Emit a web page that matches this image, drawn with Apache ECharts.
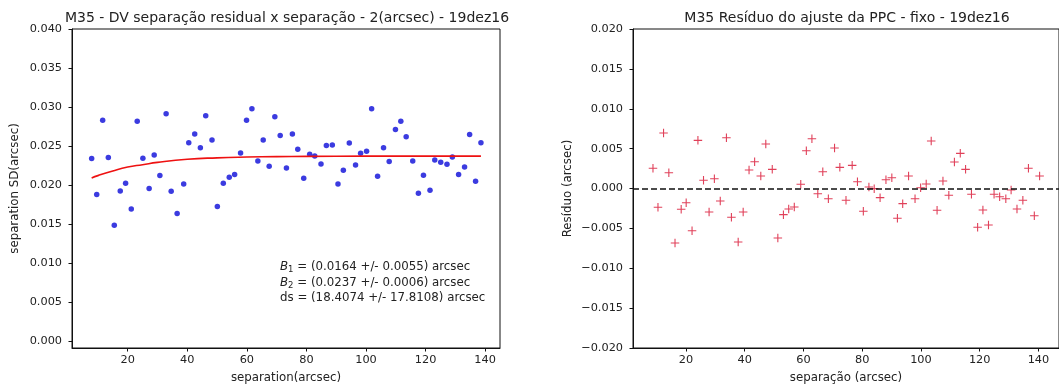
<!DOCTYPE html>
<html>
<head>
<meta charset="utf-8">
<script src="https://cdn.jsdelivr.net/npm/echarts@6/dist/echarts.min.js"></script>
<style>
html,body{margin:0;padding:0;background:#fff;}
#c{width:1059px;height:391px;}
</style>
</head>
<body>
<div id="c"></div>
<script>
// ---- data ----
const sepLeft = [7.9,9.6,11.6,13.5,15.5,17.5,19.3,21.2,23.2,25.1,27.2,28.9,30.8,32.9,34.6,36.6,38.8,40.5,42.5,44.4,46.2,48.3,50.1,52.1,54.1,55.9,57.9,59.9,61.7,63.7,65.5,67.5,69.4,71.2,73.3,75.3,77.1,79.1,81.1,82.8,84.9,86.7,88.7,90.6,92.4,94.4,96.5,98.2,100.2,101.9,103.9,105.9,107.8,109.9,111.7,113.5,115.7,117.6,119.3,121.5,123.1,125.1,127.2,129.0,131.1,133.1,134.8,136.8,138.6];
const sepSD = [0.02339,0.01877,0.02829,0.02351,0.01485,0.01924,0.02022,0.01693,0.02816,0.02342,0.01954,0.02385,0.02121,0.02914,0.0192,0.01634,0.02013,0.02543,0.02654,0.02479,0.02889,0.02577,0.01724,0.02022,0.02099,0.02134,0.0241,0.02829,0.02978,0.02308,0.02577,0.0224,0.02876,0.02633,0.02218,0.02654,0.02458,0.02086,0.02394,0.02372,0.02269,0.02505,0.02513,0.02013,0.02189,0.02538,0.02257,0.02406,0.02432,0.02978,0.02112,0.02479,0.023,0.0271,0.02816,0.0262,0.02308,0.01894,0.02125,0.01933,0.02321,0.02291,0.02266,0.02359,0.02134,0.02231,0.02646,0.02048,0.02543];
const fitX = [7.9,10,15,20,25,30,40,50,60,70,80,100,120,138.6];
const fitY = [0.0209,0.0212,0.0218,0.0223,0.0226,0.0229,0.0233,0.02348,0.02358,0.02364,0.02367,0.0237,0.0237,0.0237];
const sepRight = [8.8,10.5,12.4,14.2,16.3,18.4,20.1,22.1,24.1,26.0,27.9,29.7,31.7,33.8,35.5,37.8,39.5,41.5,43.4,45.5,47.2,49.4,51.3,53.2,55.0,56.9,59.1,61.0,62.9,64.9,66.6,68.5,70.6,72.4,74.5,76.6,78.4,80.4,82.3,84.1,86.1,88.1,90.1,92.0,93.8,95.8,98.0,99.9,101.8,103.5,105.5,107.5,109.5,111.4,113.4,115.2,117.2,119.3,121.1,123.0,124.9,126.8,128.9,130.7,132.7,134.7,136.6,138.6,140.4];
const residual = [0.00253,-0.00236,0.00696,0.00198,-0.00683,-0.00261,-0.00178,-0.00529,0.00604,0.00103,-0.00294,0.00123,-0.00157,0.00637,-0.00361,-0.0067,-0.00294,0.00232,0.00336,0.00157,0.00558,0.0024,-0.0062,-0.00328,-0.00257,-0.00232,0.00053,0.00474,0.00624,-0.00065,0.00211,-0.00128,0.00507,0.00265,-0.00148,0.0029,0.00085,-0.00286,0.00019,-0.00002,-0.00115,0.0011,0.00135,-0.00373,-0.0019,0.00157,-0.00128,0.0001,0.00056,0.00595,-0.00273,0.00094,-0.00085,0.00332,0.00441,0.0024,-0.00073,-0.00486,-0.00269,-0.00457,-0.00073,-0.00103,-0.00128,-0.00019,-0.00257,-0.00148,0.00253,-0.00341,0.00157];
const xTicks = [20,40,60,80,100,120,140];
const yTicksLeft = [0,0.005,0.010,0.015,0.020,0.025,0.030,0.035,0.040];
const yTicksRight = [-0.020,-0.015,-0.010,-0.005,0,0.005,0.010,0.015,0.020];
const fitLines = [
  ['B','1',' = (0.0164 +/- 0.0055) arcsec'],
  ['B','2',' = (0.0237 +/- 0.0006) arcsec'],
  ['ds','',' = (18.4074 +/- 17.8108) arcsec']
];

const FONT = 'DejaVu Sans';
const TXT = '#222';
const TICK_FS = 11.3;
const NAME_FS = 11.8;
const fmt3 = v => (Math.abs(v) < 1e-9 ? 0 : v).toFixed(3).replace('-', '\u2212');

function xAxis(idx, min, max, name) {
  return {
    type: 'value', gridIndex: idx, min: min, max: max,
    name: name, nameLocation: 'middle', nameGap: 24,
    nameTextStyle: {fontFamily: FONT, fontSize: NAME_FS, color: TXT},
    axisLine: {show: true, onZero: false, lineStyle: {color: '#111', width: 1}},
    axisTick: {show: true, customValues: xTicks, length: 3.5, lineStyle: {color: '#111'}},
    axisLabel: {customValues: xTicks, fontFamily: FONT, fontSize: TICK_FS, color: TXT, margin: 7},
    splitLine: {show: false}
  };
}
function yAxis(idx, min, max, ticks, name, gap) {
  return {
    type: 'value', gridIndex: idx, min: min, max: max,
    name: name, nameLocation: 'middle', nameGap: gap, nameRotate: 90,
    nameTextStyle: {fontFamily: FONT, fontSize: NAME_FS, color: TXT},
    axisLine: {show: true, onZero: false, lineStyle: {color: '#111', width: 1}},
    axisTick: {show: true, customValues: ticks, length: 3.5, lineStyle: {color: '#111'}},
    axisLabel: {customValues: ticks, formatter: fmt3, fontFamily: FONT, fontSize: TICK_FS, color: TXT, margin: 10},
    splitLine: {show: false}
  };
}

const plus = 'path://M-0.9,-7 H0.9 V-0.9 H7 V0.9 H0.9 V7 H-0.9 V0.9 H-7 V-0.9 H-0.9 Z';

const titles = [
  {text: 'M35 - DV separação residual x separação - 2(arcsec) - 19dez16', left: 282, top: 6, textAlign: 'center',
   textStyle: {fontFamily: FONT, fontSize: 14, fontWeight: 'normal', color: TXT}},
  {text: 'M35 Resíduo do ajuste da PPC - fixo - 19dez16', left: 842, top: 6, textAlign: 'center',
   textStyle: {fontFamily: FONT, fontSize: 14, fontWeight: 'normal', color: TXT}}
];
fitLines.forEach((l, i) => {
  const txt = l[1] ? '{i|' + l[0] + '}{s|' + l[1] + '}{n|' + l[2] + '}' : '{n|' + l[0] + l[2] + '}';
  titles.push({
    text: txt, left: 275, top: 255 + i * 16,
    textStyle: {
      fontFamily: FONT, fontSize: NAME_FS, color: TXT, fontWeight: 'normal',
      rich: {
        i: {fontFamily: FONT, fontSize: NAME_FS, fontStyle: 'italic', color: TXT},
        s: {fontFamily: FONT, fontSize: 8.5, color: TXT, padding: [5, 0, 0, 0]},
        n: {fontFamily: FONT, fontSize: NAME_FS, color: TXT}
      }
    }
  });
});

const option = {
  backgroundColor: '#fff',
  animation: false,
  title: titles,
  grid: [
    {left: 72, top: 29, width: 428, height: 319, show: true, borderColor: '#111', borderWidth: 1, backgroundColor: 'transparent'},
    {left: 633, top: 29, width: 428, height: 319, show: true, borderColor: '#111', borderWidth: 1, backgroundColor: 'transparent'}
  ],
  xAxis: [
    xAxis(0, 1.3, 145, 'separation(arcsec)'),
    xAxis(1, 2.0, 147, 'separação (arcsec)')
  ],
  yAxis: [
    yAxis(0, -0.0009, 0.040, yTicksLeft, 'separation SD(arcsec)', 51),
    yAxis(1, -0.020, 0.020, yTicksRight, 'Resíduo (arcsec)', 59)
  ],
  series: [
    {
      type: 'scatter', xAxisIndex: 0, yAxisIndex: 0,
      data: sepLeft.map((x, i) => [x, sepSD[i]]),
      symbol: 'circle', symbolSize: 5.5,
      itemStyle: {color: '#0a0ad8'}
    },
    {
      type: 'line', xAxisIndex: 0, yAxisIndex: 0,
      data: fitX.map((x, i) => [x, fitY[i]]),
      smooth: true, showSymbol: false, symbol: 'none',
      lineStyle: {color: '#ee1111', width: 1.6}
    },
    {
      type: 'scatter', xAxisIndex: 1, yAxisIndex: 1,
      data: sepRight.map((x, i) => [x, residual[i]]),
      symbol: plus, symbolSize: 8.5,
      itemStyle: {color: '#d8102f'},
      markLine: {
        silent: true, symbol: ['none', 'none'], label: {show: false},
        lineStyle: {color: '#111', type: [6, 3], width: 1.5},
        data: [{yAxis: 0}]
      }
    }
  ]
};
echarts.init(document.getElementById('c')).setOption(option);
</script>
</body>
</html>
